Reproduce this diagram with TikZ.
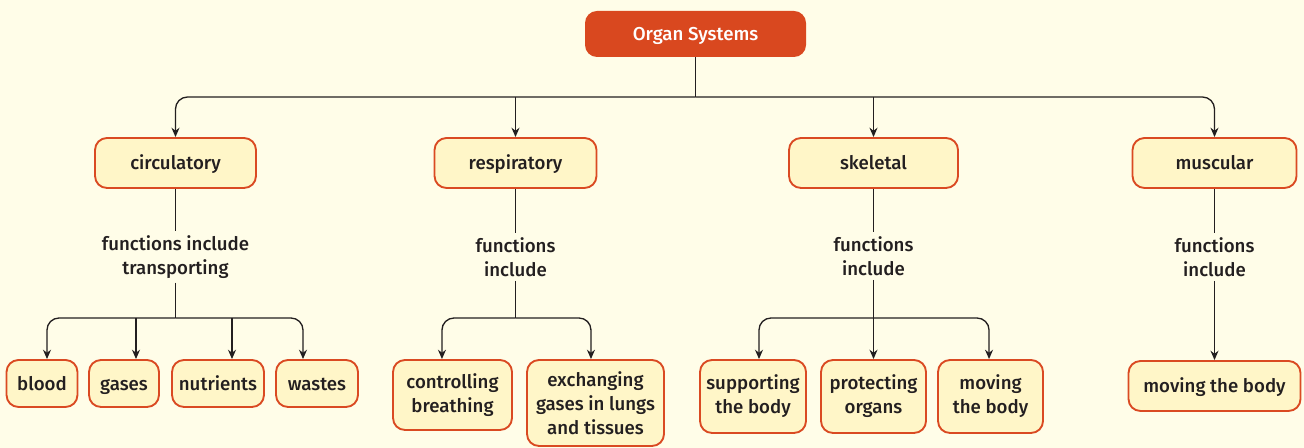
\documentclass[tikz,border=0pt]{standalone}
\usepackage{fontspec}
\setmainfont{Fira Sans}[UprightFont={* Medium}]
\usetikzlibrary{arrows.meta}
\definecolor{paper}{RGB}{255,253,232}
\definecolor{boxfill}{RGB}{255,246,200}
\definecolor{boxline}{RGB}{218,74,34}
\definecolor{headfill}{RGB}{217,72,31}
\definecolor{ink}{RGB}{35,31,32}

\begin{document}
\begin{tikzpicture}[
  x=0.75pt, y=-0.75pt,
  font=\fontsize{14}{18}\selectfont,
  head/.style={fill=headfill, text=white, rounded corners=9pt, align=center, minimum width=165.75pt, minimum height=34.5pt, text height=11pt, text depth=1pt},
  system/.style={draw=boxline, line width=1.4pt, fill=boxfill, text=ink, rounded corners=9pt, align=center, minimum height=37.5pt, text height=11pt, text depth=1pt},
  leaf/.style={draw=boxline, line width=1.4pt, fill=boxfill, text=ink, rounded corners=9pt, align=center, inner sep=2pt},
  oneline/.style={text height=11pt, text depth=1pt},
  note/.style={align=center, text=ink, inner sep=3pt},
  link/.style={draw=ink, line width=1pt, rounded corners=9pt},
  arrow/.style={link, -{Stealth[length=7pt, width=6pt]}}
]
\fill[paper] (0,0) rectangle (1304,448);

% top
\node[head] (org) at (695.5,34) {Organ Systems};
\coordinate (bus) at (695.5,97);

% systems
\node[system, minimum width=120.75pt] (circ) at (175.5,163) {circulatory};
\node[system, minimum width=121.5pt] (resp) at (515.5,163) {respiratory};
\node[system, minimum width=126.75pt] (skel) at (873.5,163) {skeletal};
\node[system, minimum width=123pt] (musc) at (1214.5,163) {muscular};

% notes
\node[note] (circnote) at (175.5,257) {functions include\\transporting};
\node[note] (respnote) at (515.5,257) {functions\\include};
\node[note] (skelnote) at (873.5,256) {functions\\include};
\node[note] (muscnote) at (1214.5,257) {functions\\include};

\coordinate (cbus) at (175.5,318);
\coordinate (rbus) at (515.5,318);
\coordinate (sbus) at (873.5,318);

% leaves
\node[leaf, oneline, minimum width=53.25pt, minimum height=35.25pt] (blood) at (42,383.5) {blood};
\node[leaf, oneline, minimum width=52.5pt, minimum height=35.25pt] (gases) at (124,383.5) {gases};
\node[leaf, oneline, minimum width=69pt, minimum height=35.25pt] (nutr) at (218,383.5) {nutrients};
\node[leaf, oneline, minimum width=61.5pt, minimum height=35.25pt] (waste) at (317,383.5) {wastes};
\node[leaf, minimum width=89.25pt, minimum height=52.5pt] (ctrl) at (452.5,395) {controlling\\breathing};
\node[leaf, minimum width=102.75pt, minimum height=64.5pt] (exch) at (595.5,403) {exchanging\\gases in lungs\\and tissues};
\node[leaf, minimum width=79.5pt, minimum height=54.75pt] (supp) at (753,396.5) {supporting\\the body};
\node[leaf, minimum width=78.75pt, minimum height=54.75pt] (prot) at (873.5,396.5) {protecting\\organs};
\node[leaf, minimum width=78.75pt, minimum height=54.75pt] (move) at (990.5,396.5) {moving\\the body};
\node[leaf, oneline, minimum width=129pt, minimum height=37.5pt] (mbody) at (1214.5,386) {moving the body};

% top level
\draw[link] (org) -- (bus);
\draw[arrow] (bus) -| (circ.north);
\draw[arrow] (bus) -| (musc.north);
\draw[arrow] (bus -| resp.north) -- (resp.north);
\draw[arrow] (bus -| skel.north) -- (skel.north);

% circulatory
\draw[link] (circ) -- (circnote);
\draw[link] (circnote) -- (cbus);
\draw[arrow] (cbus) -| ([xshift=3.75pt]blood.north);
\draw[arrow] ([xshift=9pt]gases.north |- cbus) -- ([xshift=9pt]gases.north);
\draw[arrow] ([xshift=10.5pt]nutr.north |- cbus) -- ([xshift=10.5pt]nutr.north);
\draw[arrow] (cbus) -| ([xshift=-10.5pt]waste.north);

% respiratory
\draw[link] (resp) -- (respnote);
\draw[link] (respnote) -- (rbus);
\draw[arrow] (rbus) -| ([xshift=-7.9pt]ctrl.north);
\draw[arrow] (rbus) -| ([xshift=-3.4pt]exch.north);

% skeletal
\draw[link] (skel) -- (skelnote);
\draw[link] (skelnote) -- (sbus);
\draw[arrow] (sbus) -| ([xshift=4.5pt]supp.north);
\draw[arrow] (sbus) -- (sbus |- prot.north);
\draw[arrow] (sbus) -| ([xshift=-1.1pt]move.north);

% muscular
\draw[link] (musc) -- (muscnote);
\draw[arrow] (muscnote) -- (mbody);
\end{tikzpicture}
\end{document}
